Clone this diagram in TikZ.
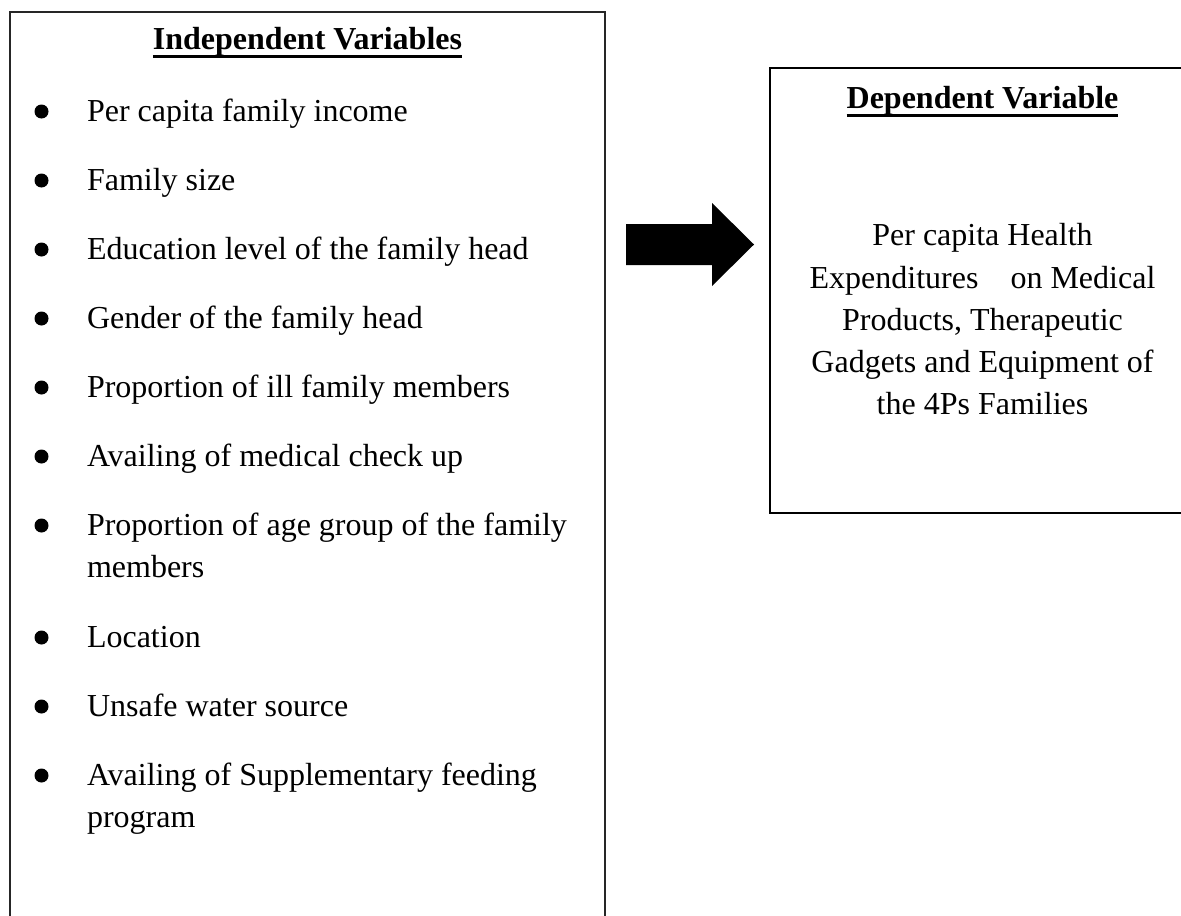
\documentclass[tikz,border=0pt]{standalone}
\usepackage{fontspec}
\setmainfont{Liberation Serif}
\begin{document}
\begin{tikzpicture}[x=0.5pt,y=-0.5pt,
  every node/.style={font=\fontsize{16pt}{21pt}\selectfont, inner sep=0pt, outer sep=0pt},
  box/.style={draw=black, line width=1pt, fill=none},
  itemtext/.style={anchor=base west},
  bul/.style={circle, fill=black, minimum size=7pt, inner sep=0pt},
  ttl/.style={anchor=base, font=\fontsize{16pt}{21pt}\selectfont\bfseries},
  body/.style={anchor=base},
  uline/.style={line width=1.5pt},
]
\useasboundingbox (0,0) rectangle (1181,915);
% boxes
\node[box, draw=black!85, anchor=north west, minimum width=297.5pt, minimum height=480pt] (indep) at (10,12) {};
\node[box, anchor=north west, minimum width=215pt, minimum height=222.5pt] (dep) at (770,68) {};
% titles
\node[ttl] (ivt) at (307.5,50) {Independent Variables};
\draw[uline] ([yshift=-3.5pt]ivt.base west) -- ([yshift=-3.5pt]ivt.base east);
\node[ttl] (dvt) at (982.5,108) {Dependent Variable};
\draw[uline] ([yshift=-3.5pt]dvt.base west) -- ([yshift=-3.5pt]dvt.base east);
% bullets and items
\foreach \y/\t [count=\i] in {121/Per capita family income,
  190/Family size,
  259/Education level of the family head,
  328/Gender of the family head,
  397/Proportion of ill family members,
  466/Availing of medical check up,
  535/Proportion of age group of the family,
  647/Location,
  716/Unsafe water source,
  785/Availing of Supplementary feeding}{
  \node[bul] (b\i) at (41.5,\y-9.5) {};
  \node[itemtext] (it\i) at (87,\y) {\t};
}
\node[itemtext] (it7b) at (87,577) {members};
\node[itemtext] (it10b) at (87,827) {program};
% dependent text
\node[body] (d1) at (982.5,245) {Per capita Health};
\node[body] (d2) at (982.5,288) {Expenditures\hspace{12pt} on Medical};
\node[body] (d3) at (982.5,330) {Products, Therapeutic};
\node[body] (d4) at (982.5,372) {Gadgets and Equipment of};
\node[body] (d5) at (982.5,414) {the 4Ps Families};
% arrow
\fill[black] (626,224) -- (712,224) -- (712,203) -- (754,244.5) -- (712,286) -- (712,265) -- (626,265) -- cycle;
\end{tikzpicture}
\end{document}
